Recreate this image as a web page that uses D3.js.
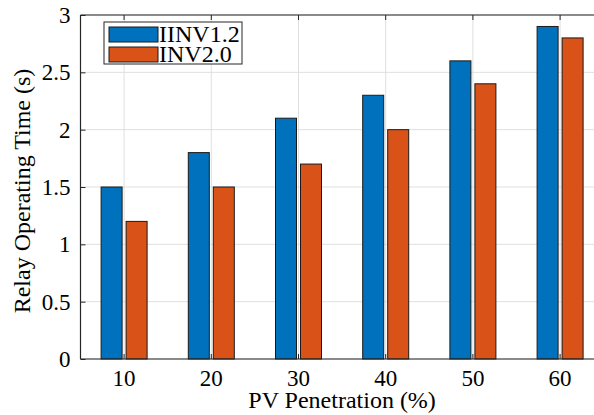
<!DOCTYPE html>
<html>
<head>
<meta charset="utf-8">
<script src="https://cdn.jsdelivr.net/npm/d3@7"></script>
<style>
  body { margin: 0; background: #fff; }
  text { font-family: "Liberation Serif", "Times New Roman", serif; fill: #000; }
</style>
</head>
<body>
<div id="chart"></div>
<script>
// data
const categories = ["10", "20", "30", "40", "50", "60"];
const seriesNames = ["IINV1.2", "INV2.0"];
const iinv12 = [1.5, 1.8, 2.1, 2.3, 2.6, 2.9];
const inv20 = [1.2, 1.5, 1.7, 2.0, 2.4, 2.8];
const yTicks = [0, 0.5, 1, 1.5, 2, 2.5, 3];
const colors = ["#0072BD", "#D95319"];

var W = 594, H = 415;
var plotL = 80.5, plotR = 603.7, plotT = 15, plotB = 359;

var svg = d3.select("#chart")
    .append("svg")
    .attr("width", W)
    .attr("height", H);

// scales
var x0 = d3.scaleBand()
    .domain(categories)
    .range([plotL, plotR])
    .padding(0);

var x1 = d3.scaleBand()
    .domain(seriesNames)
    .range([x0.bandwidth() / 2 - 23, x0.bandwidth() / 2 + 23])
    .paddingInner(0.16)
    .paddingOuter(0);

var y = d3.scaleLinear()
    .domain([0, 3])
    .range([plotB, plotT]);

var rows = categories.map(function(c, i) {
    return { cat: c, values: [iinv12[i], inv20[i]] };
});

// grid
var grid = svg.append("g");
grid.selectAll(".gy")
    .data(yTicks)
    .enter()
    .append("line")
    .attr("x1", plotL).attr("x2", W)
    .attr("y1", function(d) { return y(d); })
    .attr("y2", function(d) { return y(d); })
    .attr("stroke", "#dfdfdf")
    .attr("stroke-width", 1);
grid.selectAll(".gx")
    .data(categories)
    .enter()
    .append("line")
    .attr("x1", function(d) { return x0(d) + x0.bandwidth() / 2; })
    .attr("x2", function(d) { return x0(d) + x0.bandwidth() / 2; })
    .attr("y1", plotT).attr("y2", plotB)
    .attr("stroke", "#dfdfdf")
    .attr("stroke-width", 1);

// bars
svg.selectAll(".barGroup")
    .data(rows)
    .enter()
    .append("g")
    .attr("class", "barGroup")
    .attr("transform", function(d) { return "translate(" + x0(d.cat) + ",0)"; })
    .selectAll("rect")
    .data(function(d) { return d.values.map(function(v, i) { return { key: seriesNames[i], value: v, i: i }; }); })
    .enter()
    .append("rect")
    .attr("x", function(d) { return x1(d.key); })
    .attr("y", function(d) { return y(d.value); })
    .attr("width", x1.bandwidth())
    .attr("height", function(d) { return plotB - y(d.value); })
    .attr("fill", function(d) { return colors[d.i]; })
    .attr("stroke", "#1a1a1a")
    .attr("stroke-width", 1);

// axes (MATLAB style: box, inward ticks)
var axisCol = "#262626";
svg.append("line").attr("x1", plotL).attr("x2", W).attr("y1", plotB).attr("y2", plotB)
    .attr("stroke", axisCol).attr("stroke-width", 1.2);
svg.append("line").attr("x1", plotL).attr("x2", W).attr("y1", plotT).attr("y2", plotT)
    .attr("stroke", axisCol).attr("stroke-width", 1.2);
svg.append("line").attr("x1", plotL).attr("x2", plotL).attr("y1", plotT).attr("y2", plotB)
    .attr("stroke", axisCol).attr("stroke-width", 1.2);

var xAxis = d3.axisBottom(x0).tickSizeInner(-5).tickSizeOuter(0).tickPadding(11);
var gx = svg.append("g")
    .attr("transform", "translate(0," + plotB + ")")
    .call(xAxis);
gx.select(".domain").remove();
gx.selectAll(".tick line").attr("stroke", axisCol);
gx.selectAll("text").style("font-size", "23px").style("font-family", "Liberation Serif").attr("fill", "#000");

var gxTop = svg.append("g")
    .attr("transform", "translate(0," + plotT + ")")
    .call(d3.axisTop(x0).tickSizeInner(-5).tickSizeOuter(0).tickFormat(""));
gxTop.select(".domain").remove();
gxTop.selectAll(".tick line").attr("stroke", axisCol);

var yAxis = d3.axisLeft(y).tickValues(yTicks).tickFormat(d3.format("")).tickSizeInner(-5).tickSizeOuter(0).tickPadding(10);
var gy = svg.append("g")
    .attr("transform", "translate(" + plotL + ",0)")
    .call(yAxis);
gy.select(".domain").remove();
gy.selectAll(".tick line").attr("stroke", axisCol);
gy.selectAll("text").style("font-size", "23px").style("font-family", "Liberation Serif").attr("fill", "#000");

// axis labels
svg.append("text")
    .attr("x", (plotL + plotR) / 2)
    .attr("y", 408)
    .attr("text-anchor", "middle")
    .style("font-size", "24px")
    .text("PV Penetration (%)");

svg.append("text")
    .attr("transform", "translate(30," + ((plotT + plotB) / 2 + 4) + ") rotate(-90)")
    .attr("text-anchor", "middle")
    .style("font-size", "24px")
    .text("Relay Operating Time (s)");

// legend
var lg = svg.append("g");
lg.append("rect")
    .attr("x", 104).attr("y", 22).attr("width", 138).attr("height", 42)
    .attr("fill", "#fff").attr("stroke", axisCol).attr("stroke-width", 1);
seriesNames.forEach(function(name, i) {
    lg.append("rect")
        .attr("x", 109).attr("y", 27 + i * 20).attr("width", 49).attr("height", 15)
        .attr("fill", colors[i]).attr("stroke", "#1a1a1a").attr("stroke-width", 1);
    lg.append("text")
        .attr("x", 159).attr("y", 42 + i * 20)
        .style("font-size", "24px")
        .text(name);
});
</script>
</body>
</html>
